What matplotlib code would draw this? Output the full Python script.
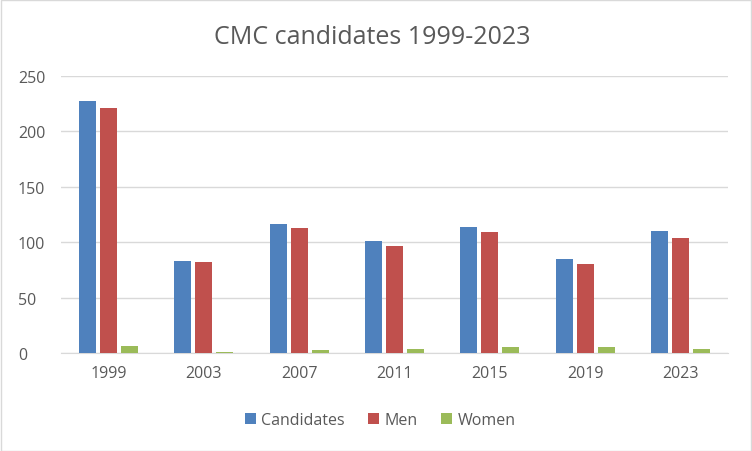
import numpy as np
import matplotlib
matplotlib.use("Agg")
import matplotlib.pyplot as plt
from matplotlib.patches import Rectangle

years = ["1999", "2003", "2007", "2011", "2015", "2019", "2023"]
candidates = [227, 83, 116, 101, 114, 85, 110]
men = [221, 82, 113, 97, 109, 80, 104]
women = [6, 1, 3, 4, 5, 5, 4]

series_names = ["Candidates", "Men", "Women"]
colors = ["#4F81BD", "#C0504D", "#9BBB59"]
text_color = "#595959"

plt.rcParams['font.family'] = ['Open Sans', 'DejaVu Sans']

fig = plt.figure(figsize=(7.52, 4.52), dpi=100)
ax = fig.add_axes([61 / 752, 1 - 354 / 452, 667 / 752, 277 / 452])

x = np.arange(len(years))
width = 0.178
step = 0.22
for i, (vals, name) in enumerate(zip([candidates, men, women], series_names)):
    ax.bar(x + (i - 1) * step, vals, width=width, color=colors[i], label=name, zorder=3)

ax.set_xlim(-0.5, len(years) - 0.5)
ax.set_ylim(0, 250)
ax.set_yticks(range(0, 251, 50))
ax.set_xticks(x)
ax.set_xticklabels(years)
ax.yaxis.grid(True, color="#D9D9D9", linewidth=1, zorder=0)
ax.tick_params(axis="both", length=0, labelsize=11.5, colors=text_color, pad=9)
ax.tick_params(axis="y", pad=31)
for lbl in ax.get_yticklabels():
    lbl.set_horizontalalignment("left")
for s in ["top", "right", "left"]:
    ax.spines[s].set_visible(False)
ax.spines["bottom"].set_color("#D9D9D9")

fig.text(372 / 752, 1 - 37 / 452, "CMC candidates 1999-2023", ha="center", va="center",
         fontsize=18, color=text_color)

leg = fig.legend(loc="center", bbox_to_anchor=(380 / 752, 1 - 421 / 452), ncol=3,
                 frameon=False, fontsize=11.5, handlelength=0.7, handleheight=0.7,
                 handletextpad=0.3, columnspacing=1.5)
for t in leg.get_texts():
    t.set_color(text_color)

fig.patches.append(Rectangle((0.5 / 752, 0.5 / 452), 1 - 1.5 / 752, 1 - 1.5 / 452,
                             transform=fig.transFigure, fill=False, edgecolor="#D9D9D9",
                             linewidth=1))

plt.savefig("out.png", dpi=100)
plt.close()
